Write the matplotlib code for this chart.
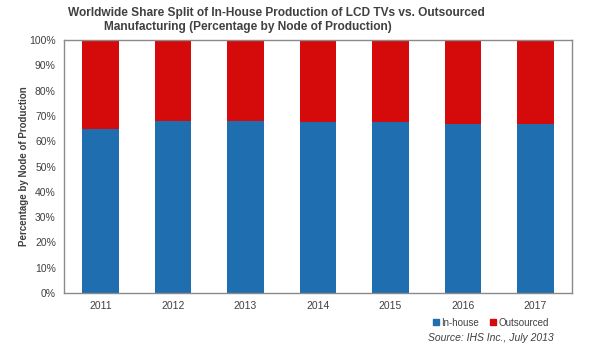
import matplotlib
matplotlib.use('Agg')
import matplotlib.pyplot as plt
from matplotlib.lines import Line2D

plt.rcParams['font.family'] = ['Liberation Sans', 'DejaVu Sans']

# data
years = ['2011', '2012', '2013', '2014', '2015', '2016', '2017']
in_house = [65, 68, 68, 67.5, 67.5, 67, 67]
outsourced = [100 - v for v in in_house]

blue = '#1f6eb0'
red = '#d50a0a'
grey = '#404040'

fig = plt.figure(figsize=(6, 3.46), dpi=100)
ax = fig.add_axes([0.107, 0.153, 0.846, 0.731])

x = range(len(years))
ax.bar(x, in_house, width=0.5, color=blue)
ax.bar(x, outsourced, width=0.5, bottom=in_house, color=red)

ax.set_xlim(-0.5, len(years) - 0.5)
ax.set_ylim(0, 100)
ax.set_yticks(range(0, 101, 10))
ax.set_yticklabels([f'{v}%' for v in range(0, 101, 10)])
ax.set_xticks(list(x))
ax.set_xticklabels(years)
ax.tick_params(length=0, labelsize=7.5, colors=grey, pad=6)
for s in ax.spines.values():
    s.set_color('#8a8a8a')
    s.set_linewidth(1)

ax.set_ylabel('Percentage by Node of Production', fontsize=7, fontweight='bold',
              color=grey)
ax.yaxis.set_label_coords(-0.07, 0.5)

fig.text(0.46, 0.962, 'Worldwide Share Split of In-House Production of LCD TVs vs. Outsourced',
         ha='center', va='center', fontsize=8.6, fontweight='bold', color=grey)
fig.text(0.413, 0.922, 'Manufacturing (Percentage by Node of Production)',
         ha='center', va='center', fontsize=8.6, fontweight='bold', color=grey)

handles = [Line2D([], [], marker='s', linestyle='none', color=blue, markersize=4),
           Line2D([], [], marker='s', linestyle='none', color=red, markersize=4)]
fig.legend(handles, ['In-house', 'Outsourced'], loc='center left',
           bbox_to_anchor=(0.705, 0.067), ncol=2, frameon=False, fontsize=7,
           handletextpad=0.2, columnspacing=1.0, handlelength=0.8,
           labelcolor=grey)

fig.text(0.922, 0.023, 'Source: IHS Inc., July 2013', ha='right', va='center',
         fontsize=7.5, style='italic', color=grey)

fig.savefig('out.png', dpi=100)
